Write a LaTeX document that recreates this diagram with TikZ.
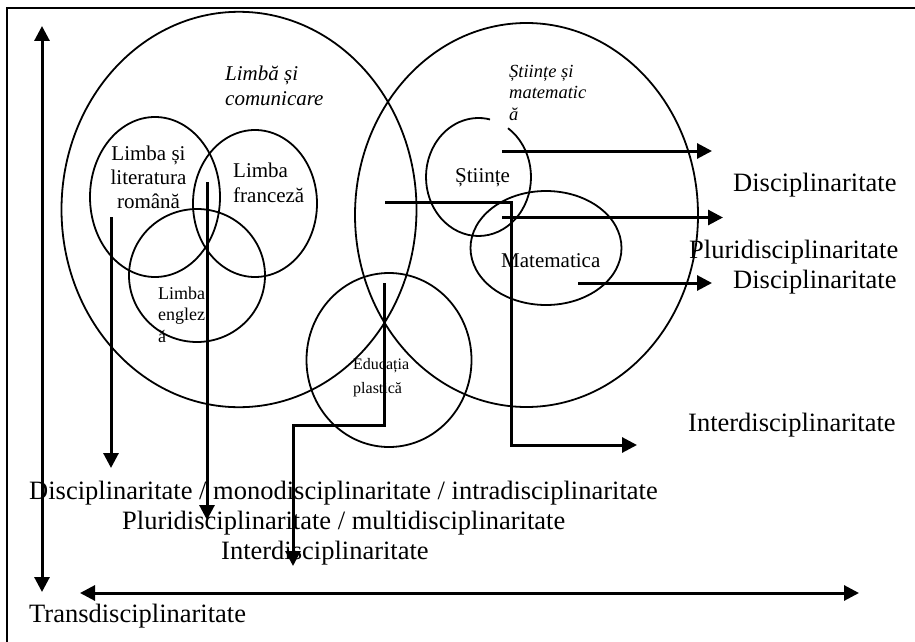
\documentclass[tikz,border=0pt]{standalone}
\usepackage{fontspec}
\setmainfont{Liberation Serif}
\usetikzlibrary{arrows.meta}
\tikzset{>={Triangle[width=15pt,length=15pt]}}
\tikzset{
  ring/.style={line width=1.8pt},
  flow/.style={line width=3pt},
  big/.style={inner sep=0pt, anchor=base west, font=\fontsize{26.5}{30}\selectfont},
  txt/.style={inner sep=0pt, anchor=base west, align=left},
}

\begin{document}
\begin{tikzpicture}[x=1pt,y=-1pt]
\useasboundingbox (0,0) rectangle (915,642);
\draw[line width=2.6pt] (7,642) -- (7,8) -- (915,8);

\coordinate (cLC) at (239,209.5);
\coordinate (cSM) at (526.5,215);
\coordinate (cRo) at (155,197);
\coordinate (cFr) at (255,203.5);
\coordinate (cEn) at (197,275.5);
\coordinate (cSt) at (478.5,177);
\coordinate (cMa) at (546,248);
\coordinate (cEd) at (389,360);

\draw[ring] (cLC) ellipse [x radius=177.5, y radius=197.7];
\draw[ring] (cSM) ellipse [x radius=171.5, y radius=192];
\draw[ring] (cRo) ellipse [x radius=65, y radius=80];
\draw[ring] (cFr) ellipse [x radius=62, y radius=73.5];
\draw[ring] (cEn) ellipse [x radius=68, y radius=66.5];
\draw[ring] ([shift={(-55.8:52.5 and 59)}]cSt) arc[start angle=-55.8, end angle=282.7, x radius=52.5, y radius=59];
\draw[ring] (cMa) ellipse [x radius=75.5, y radius=57];
\draw[ring] (cEd) ellipse [x radius=82.5, y radius=87];

\node[txt, font=\itshape\fontsize{21}{25}\selectfont] (LC) at (225,105) {Limbă și\\comunicare};
\node[txt, font=\itshape\fontsize{18.5}{21.5}\selectfont] (SM) at (509,120) {Științe și\\matematic\\ă};
\node[txt, anchor=base, align=center, font=\fontsize{21}{24}\selectfont] (Ro) at (148.5,208) {Limba și\\literatura\\română};
\node[txt, font=\fontsize{21}{25}\selectfont] (Fr) at (233,202) {Limba\\franceză};
\node[txt, font=\fontsize{18}{21.5}\selectfont] (En) at (158,342) {Limba\\englez\\ă};
\node[txt, font=\fontsize{21}{25}\selectfont] (St) at (455,182) {Științe};
\node[txt, font=\fontsize{21}{25}\selectfont] (Ma) at (501,267) {Matematica};
\node[txt, font=\fontsize{16}{24}\selectfont] (Ed) at (353,393) {Educația\\plastică};

\node[big] (d1) at (733,191) {Disciplinaritate};
\node[big] (p1) at (689,258) {Pluridisciplinaritate};
\node[big] (d2) at (733,288) {Disciplinaritate};
\node[big] (i1) at (688,431) {Interdisciplinaritate};
\node[big] (b1) at (29,499) {Disciplinaritate / monodisciplinaritate / intradisciplinaritate};
\node[big] (b2) at (122,529) {Pluridisciplinaritate / multidisciplinaritate};
\node[big] (b3) at (221,559) {Interdisciplinaritate};
\node[big] (tr) at (29,622) {Transdisciplinaritate};

\coordinate (s1) at (502,151);  \coordinate (t1) at (712,151);
\coordinate (s2) at (502,217.5);\coordinate (t2) at (723,217.5);
\coordinate (s3) at (578,283);  \coordinate (t3) at (712,283);
\coordinate (k1) at (385,202);  \coordinate (k2) at (511,445);  \coordinate (k3) at (637,445);
\coordinate (e1) at (384,283);  \coordinate (e2) at (293,425);  \coordinate (e3) at (293,566);
\coordinate (r1) at (111,217);  \coordinate (r2) at (111,468);
\coordinate (f1) at (207,182);  \coordinate (f2) at (207,520);
\coordinate (vT) at (42,26);    \coordinate (vB) at (42,592);
\coordinate (hL) at (80,593);   \coordinate (hR) at (859,593);

\draw[flow,->] (s1) -- (t1);
\draw[flow,->] (s2) -- (t2);
\draw[flow,->] (s3) -- (t3);
\draw[flow,->] (k1) -| (k2) -- (k3);
\draw[flow,->] (e1) |- (e2) -- (e3);
\draw[flow,->] (r1) -- (r2);
\draw[flow,->] (f1) -- (f2);
\draw[flow,<->] (vT) -- (vB);
\draw[flow,<->] (hL) -- (hR);

\end{tikzpicture}
\end{document}
